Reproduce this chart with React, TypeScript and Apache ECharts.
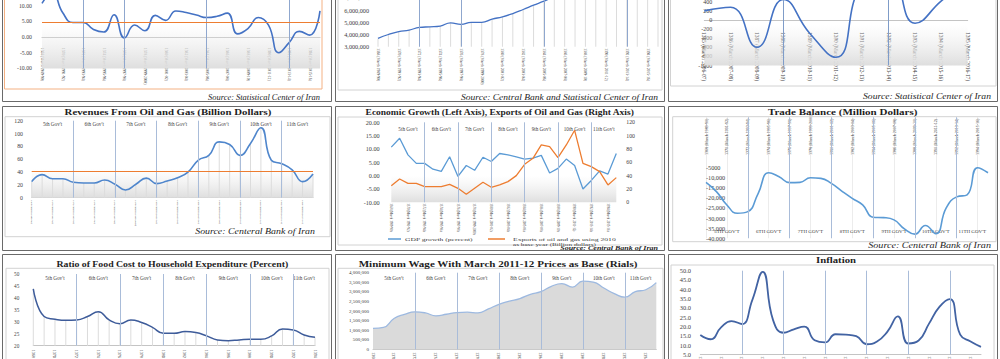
import React, { useEffect, useRef } from 'react';
import * as echarts from 'echarts';

const FONT = '"Liberation Serif", "Times New Roman", serif';
const TXT = '#404040';
const ORANGE = '#ED7D31';
const GOV = '#A9BCD9';

// ---------- categories ----------
const years = ['1368', '1369', '1370', '1371', '1372', '1373', '1374', '1375', '1376', '1377', '1378', '1379', '1380', '1381',
  '1382', '1383', '1384', '1385', '1386', '1387', '1388', '1389', '1390', '1391', '1392', '1393', '1394', '1395'];
const yearTickLabels = ['1368 (March 1989-90)', '1369 (March 1990-91)', '1370 (March 1991-92)', '1371 (March 1992-93)',
  '1372 (March 1993-94)', '1373 (March 1994-95)', '1374 (March 1995-96)', '1375 (March 1996-97)', '1376 (March 1997-98)',
  '1377 (March 1998-99)', '1378 (March 1999-2000)', '1379 (March 2000-01)', '1380 (March 2001-02)', '1381 (March 2002-03)',
  '1382 (March 2003-04)', '1383 (March 2004-05)', '1384 (March 2005-06)', '1385 (March 2006-07)', '1386 (March 2007-08)',
  '1387 (March 2008-09)', '1388 (March 2009-10)', '1389 (March 2010-11)', '1390 (March 2011-12)', '1391 (March 2012-13)',
  '1392 (March 2013-14)', '1393 (March 2014-15)', '1394 (March 2015-16)', '1395 (March 2016-17)'];
const topRightYears = ['1385', '1386', '1387', '1388', '1389', '1390', '1391', '1392', '1393', '1394', '1395'];
const foodYears = ['1368', '1369', '1370', '1371', '1372', '1373', '1374', '1375', '1376', '1377', '1378', '1379', '1380', '1381',
  '1382', '1383', '1384', '1385', '1386', '1387', '1388', '1389', '1390', '1391', '1392', '1393', '1394'];

// ---------- series values ----------
const gdpGrowth = [10.7, 14.0, 7.8, 4.6, 4.6, 2.4, 1.6, 7.1, -0.3, 3.8, 2.0, 6.9, 5.3, 8.3, 7.8, 7.0, 6.2, 6.6, 7.6, 1.0,
  2.7, 6.2, 3.8, -5.0, -1.8, 1.8, 0.6, 8.3];
const gdpGrowthAverage = 4.7;
const topCenterValues = [3680000, 4000000, 4230000, 4360000, 4580000, 4630000, 4690000, 4960000, 4830000, 5000000, 5000000,
  5260000, 5450000, 5720000, 6050000, 6400000, 6730000, 7100000, 7400000, 7650000, 7900000, 8150000, 8400000, 8600000,
  8800000, 9000000, 9200000, 9400000];
const topRightValues = [200, 280, -600, 450, -290, -820, 800, 1000, -70, 420, 900];
const oilGasRevenue = [25, 36, 29.5, 29.5, 24, 23, 23, 27.5, 21, 12, 21, 30.5, 22, 26, 31, 40, 58.5, 66, 87, 83, 66, 84.5,
  109, 58.5, 53, 43.5, 25, 37];
const oilGasRevenueAverage = 41.5;
const oilGasExports2010 = [25, 35, 28.5, 28.5, 23.5, 23.5, 23.5, 27, 21, 12, 21, 30, 22.5, 26, 31, 40, 57, 66, 86, 83.5, 67,
  86, 108, 58.5, 53.5, 46, 26, 37];
const tradeBalance = [-12300, -16900, -23500, -27600, -26800, -17700, -7500, -9500, -12400, -12300, -10000, -10300, -12800,
  -16600, -20200, -23500, -29600, -29800, -30900, -35400, -38000, -33700, -37800, -25000, -19500, -18500, -5000, -7500];
const foodShare = [43.8, 32.2, 31.1, 30.6, 30.8, 32.2, 34.2, 30.8, 29.2, 30.8, 29.7, 27.7, 25.2, 25.2, 25.9, 25.5, 24.1,
  22.4, 22.1, 22.4, 22.7, 22.7, 24.1, 27.0, 26.6, 24.5, 23.5];
const minimumWage = [1090000, 1140000, 1610000, 1820000, 1955000, 1900000, 1750000, 1830000, 1920000, 1940000, 1900000,
  2110000, 2350000, 2510000, 2650000, 2870000, 3010000, 3290000, 3425000, 3250000, 3560000, 3510000, 3200000, 2910000,
  2720000, 3010000, 3110000, 3480000];
const inflation = [15.4, 13.1, 19.5, 22.9, 21.3, 34.2, 49.4, 23.4, 16.6, 18.4, 19.9, 12.6, 11.4, 15.8, 15.6, 14.8, 10.4,
  11.9, 17.2, 25.4, 10.8, 12.4, 21.5, 30.5, 34.7, 15.6, 11.9, 9.0];

const govBoundaries = ['1372', '1376', '1380', '1384', '1388', '1392'];
const govNames = ["5th Gov't", "6th Gov't", "7th Gov't", "8th Gov't", "9th Gov't", "10th Gov't", "11th Gov't"];
const govNamesCaps = ["5TH GOV'T", "6TH GOV'T", "7TH GOV'T", "8TH GOV'T", "9TH GOV'T", "10TH GOV'T", "11TH GOV'T"];

const tickText: Record<string, string> = {};
years.forEach((y, i) => { tickText[y] = yearTickLabels[i]; });

const comma = (v: number) => v.toLocaleString('en-US');
const fmtTrade = (v: number) => (v >= 0 ? '' : v === -5000 ? '-5000' : comma(v));

const grad = (top: string, bottom: string) =>
  new echarts.graphic.LinearGradient(0, 0, 0, 1, [{ offset: 0, color: top }, { offset: 1, color: bottom }]);

function catAxis(data: string[], o: any) {
  return {
    type: 'category', data, boundaryGap: false, position: o.position || 'bottom', offset: o.offset || 0,
    axisLine: { show: !!o.line, onZero: false, lineStyle: { color: '#c4c4c4', width: 1 } },
    axisTick: { show: false },
    splitLine: { show: !!o.split, lineStyle: { color: '#e4e4e4', width: 0.7 } },
    axisLabel: {
      interval: o.interval ?? 1, rotate: -90, margin: o.margin, fontSize: o.fontSize, fontFamily: FONT, color: TXT,
      hideOverlap: false, formatter: (v: string) => tickText[v] ?? v,
    },
  };
}

function valAxis(min: number, max: number, interval: number, fmt: any, o: any) {
  return {
    type: 'value', min, max, interval, position: o.position || 'left',
    axisLine: { show: false, onZero: false }, axisTick: { show: false }, splitLine: { show: false },
    axisLabel: {
      margin: o.margin, fontSize: o.fontSize, fontFamily: FONT, color: TXT, formatter: fmt,
      inside: !!o.inside, hideOverlap: false, showMinLabel: true, showMaxLabel: true,
    },
  };
}

const govLineItems = (list: string[], color = GOV, width = 1) =>
  list.map((g) => ({ xAxis: g, lineStyle: { color, width, type: 'solid' } }));
const avgItem = (v: number) => ({ yAxis: v, lineStyle: { color: ORANGE, width: 1.2, type: 'solid' } });
const mkLine = (data: any[]) => ({ silent: true, symbol: ['none', 'none'], label: { show: false }, emphasis: { disabled: true }, data });
const band = (lo: number, hi: number, top = 'rgba(235,235,235,0)', bottom = '#dedede') =>
  [{ yAxis: hi, itemStyle: { color: grad(top, bottom) }, label: { show: false } }, { yAxis: lo }];
const govAreas = (cats: string[], names: string[], pos: string, dist: number, size = 5.2) => {
  const starts = [cats[0], ...govBoundaries];
  const ends = [...govBoundaries, cats[cats.length - 1]];
  return starts.map((s, i) => [
    {
      xAxis: s, name: names[i], itemStyle: { color: 'rgba(0,0,0,0)' },
      label: { show: true, position: pos, distance: dist, fontSize: size, fontFamily: FONT, color: TXT },
    },
    { xAxis: ends[i] },
  ]);
};
const mkArea = (data: any[]) => ({ silent: true, emphasis: { disabled: true }, data });
const dropBars = (values: number[], extra: any = {}) => ({
  type: 'bar', data: values, barWidth: 0.8, itemStyle: { color: '#dcdcdc' }, silent: true, z: 2, ...extra,
});
const lineSeries = (name: string, data: number[], color: string, width: number, extra: any = {}) => ({
  type: 'line', name, data, smooth: true, symbol: 'none', lineStyle: { color, width }, itemStyle: { color }, z: 4, ...extra,
});

let measureCtx: CanvasRenderingContext2D | null = null;
function stretched(text: string, x: number, y: number, size: number, target: number, o: any = {}) {
  const weight = o.bold ? 'bold' : 'normal';
  const fstyle = o.italic ? 'italic' : 'normal';
  if (!measureCtx) measureCtx = document.createElement('canvas').getContext('2d');
  let sx = 1;
  if (measureCtx) {
    measureCtx.font = `${fstyle} ${weight} ${size}px "Liberation Serif"`;
    const w = measureCtx.measureText(text).width;
    if (w > 0) sx = target / w;
  }
  const align = o.align || 'center';
  return {
    type: 'text', x, y, scaleX: sx, silent: true, z: 20,
    style: {
      text, fontSize: size, fontFamily: FONT, fontWeight: weight, fontStyle: fstyle, fill: o.color || '#1e1e1e',
      textAlign: align, align, textVerticalAlign: 'middle', verticalAlign: 'middle',
    },
  };
}
const frame = (x: number, y: number, w: number, h: number, stroke: string, lw = 1) => ({
  type: 'rect', silent: true, z: 1, shape: { x, y, width: w, height: h }, style: { fill: 'none', stroke, lineWidth: lw },
});

function buildOption() {
  const grids: any[] = [];
  const xAxes: any[] = [];
  const yAxes: any[] = [];
  const series: any[] = [];
  const add = (p: any) => {
    const gi = grids.length;
    grids.push({ ...p.grid, containLabel: false, outerBoundsMode: 'none', show: false });
    xAxes.push({ ...p.xAxis, gridIndex: gi });
    const off = yAxes.length;
    p.yAxis.forEach((y: any) => yAxes.push({ ...y, gridIndex: gi }));
    p.series.forEach((s: any) => series.push({ ...s, xAxisIndex: gi, yAxisIndex: off + (s.yAxisIndex || 0) }));
  };

  // A: GDP growth (top-left); axis line sits on the zero value (offset up from the grid bottom)
  add({
    grid: { left: 42, top: -10.1, width: 278, height: 78.5 },
    xAxis: catAxis(years, { line: true, offset: -31.4, margin: 11, fontSize: 3.6 }),
    yAxis: [valAxis(-10, 15, 5, (v: number) => (v >= 15 ? '' : v.toFixed(2)), { margin: 10, fontSize: 5.8 })],
    series: [lineSeries('Economic growth', gdpGrowth, '#4472C4', 1.6, {
      markLine: mkLine([...govLineItems(['1372', '1376', '1384', '1392'], '#8FA7CE'), avgItem(gdpGrowthAverage)]),
      markArea: mkArea([band(-10, 4)]),
    })],
  });

  // B: top-middle
  add({
    grid: { left: 378, top: -14.3, width: 280, height: 61 },
    xAxis: catAxis(years, { margin: 1.5, fontSize: 3.6 }),
    yAxis: [valAxis(3000000, 8000000, 1000000, (v: number) => (v >= 8000000 ? '' : comma(v)), { margin: 9, fontSize: 6.2 })],
    series: [
      dropBars(topCenterValues),
      lineSeries('Population', topCenterValues, '#4472C4', 1.3, {
        markLine: mkLine(govLineItems(['1372', '1376', '1384', '1392'], '#8FA7CE')),
      }),
    ],
  });

  // C: top-right
  add({
    grid: { left: 704.3, top: -7.3, width: 263.4, height: 72.8 },
    xAxis: catAxis(topRightYears, { line: true, offset: -45.5, margin: 12, fontSize: 5.4, interval: 0 }),
    yAxis: [valAxis(-1000, 600, 200, (v: number) => (v >= 600 ? '' : String(v)), { margin: -8, fontSize: 6 })],
    series: [lineSeries('Net', topRightValues, '#4472C4', 1.6, {
      markLine: mkLine(govLineItems(['1388', '1392'], '#7F9CC8')),
      markArea: mkArea([band(-1000, -100)]),
    })],
  });

  // D: revenues from oil and gas
  add({
    grid: { left: 31.7, top: 120.7, width: 281.3, height: 77 },
    xAxis: catAxis(years, { line: true, margin: 2.3, fontSize: 2.6 }),
    yAxis: [valAxis(0, 120, 20, (v: number) => String(v), { margin: 8.7, fontSize: 5.8 })],
    series: [
      dropBars(oilGasRevenue, { markArea: mkArea([band(0, 45)]) }),
      lineSeries('Revenues From Oil and Gas', oilGasRevenue, '#4F86CC', 1.6, {
        markLine: mkLine([...govLineItems(govBoundaries), avgItem(oilGasRevenueAverage)]),
        markArea: mkArea(govAreas(years, govNames, 'insideTop', 1)),
      }),
    ],
  });

  // E: economic growth & exports
  add({
    grid: { left: 391.3, top: 122.3, width: 225, height: 80 },
    xAxis: catAxis(years, { margin: 1, fontSize: 3.1 }),
    yAxis: [
      valAxis(-10, 20, 5, (v: number) => v.toFixed(2), { margin: 11.6, fontSize: 6.2 }),
      valAxis(0, 120, 20, (v: number) => String(v), { position: 'right', margin: 10, fontSize: 5.8 }),
    ],
    series: [
      lineSeries('GDP growth (percent)', gdpGrowth, '#5B9BD5', 1.3, {
        smooth: false,
        markLine: mkLine(govLineItems(govBoundaries)),
        markArea: mkArea([band(-10, 0), ...govAreas(years, govNames, 'insideTop', 4)]),
      }),
      lineSeries('Exports of oil and gas using 2010 as base year (Billion dollars)', oilGasExports2010, ORANGE, 1.3, {
        smooth: false, yAxisIndex: 1,
      }),
    ],
  });

  // F: trade balance (category axis on top, placed at the zero value)
  add({
    grid: { left: 706, top: 117.3, width: 282, height: 120.9 },
    xAxis: catAxis(years, { position: 'top', offset: -40.3, margin: 2.5, fontSize: 4, split: true }),
    yAxis: [valAxis(-40000, 20000, 5000, fmtTrade, { inside: true, margin: 0, fontSize: 6.2 })],
    series: [lineSeries('Trade Balance', tradeBalance, '#5B9BD5', 1.6, {
      markLine: mkLine(govLineItems(govBoundaries)),
      markArea: mkArea(govAreas(years, govNamesCaps, 'insideBottom', 4.6, 5)),
    })],
  });

  // G: food share
  add({
    grid: { left: 33.3, top: 274, width: 281.7, height: 71.7 },
    xAxis: catAxis(foodYears, { line: true, margin: 4, fontSize: 4 }),
    yAxis: [valAxis(20, 50, 5, (v: number) => String(v), { margin: 14, fontSize: 5.2 })],
    series: [
      dropBars(foodShare),
      lineSeries('Food cost ratio', foodShare, '#3E5C9A', 1.5, {
        markLine: mkLine(govLineItems(govBoundaries)),
        markArea: mkArea(govAreas(foodYears, govNames, 'insideTop', 1.7)),
      }),
    ],
  });

  // H: minimum wage
  add({
    grid: { left: 373, top: 272.7, width: 283.3, height: 76.6 },
    xAxis: catAxis(years, { line: true, margin: 3, fontSize: 4 }),
    yAxis: [valAxis(0, 4000000, 500000, comma, { margin: 4, fontSize: 5 })],
    series: [lineSeries('Minimum Wage', minimumWage, '#9DB9E0', 1.3, {
      areaStyle: { color: '#dadada', opacity: 1 },
      markLine: mkLine(govLineItems(govBoundaries)),
      markArea: mkArea(govAreas(years, govNames, 'insideTop', 3)),
    })],
  });

  // I: inflation
  add({
    grid: { left: 700.3, top: 270.7, width: 280.7, height: 83.6 },
    xAxis: catAxis(years, { line: true, margin: 2, fontSize: 4 }),
    yAxis: [valAxis(5, 50, 5, (v: number) => v.toFixed(1), { margin: 9.3, fontSize: 6.4 })],
    series: [lineSeries('Inflation', inflation, '#4263A3', 1.8, {
      markLine: mkLine(govLineItems(govBoundaries)),
    })],
  });

  const OUT = '#6a6a6a';
  const IN = '#d2d2d2';
  const graphics: any[] = [
    // outer panel borders
    frame(2.5, -5, 329, 106.5, OUT), frame(335.5, -5, 329, 106.5, OUT), frame(668.5, -5, 329, 106.5, OUT),
    frame(2.5, 106.5, 329, 144, OUT), frame(335.5, 106.5, 329, 144, OUT), frame(668.5, 106.5, 329, 144, OUT),
    frame(2.5, 254.5, 329, 110, OUT), frame(335.5, 254.5, 329, 110, OUT), frame(668.5, 254.5, 329, 110, OUT),
    // inner chart-area frames
    frame(4.5, -5, 317.5, 94, '#F4B183'), frame(338, -5, 324, 95, IN), frame(670.5, -5, 325.5, 91, IN),
    frame(5, 116.7, 325, 120, IN), frame(338, 117, 324, 128, IN), frame(672.7, 116.7, 323.3, 125, IN),
    frame(6, 268.3, 323, 97, IN), frame(338, 268.3, 325, 97, IN), frame(671, 265, 323, 100, IN),
    // titles
    stretched('Revenues From Oil and Gas (Billion Dollars)', 168, 112, 8, 207, { bold: true }),
    stretched('Economic Growth (Left Axis), Exports of Oil and Gas (Right Axis)', 499.7, 112, 8, 270, { bold: true }),
    stretched('Trade Balance (Million Dollars)', 842.7, 112, 8, 150, { bold: true }),
    stretched('Ratio of Food Cost to Household Expenditure (Percent)', 172.3, 264.5, 8, 232, { bold: true }),
    stretched('Minimum Wage With March 2011-12 Prices as Base (Rials)', 498, 264.5, 8, 280, { bold: true }),
    stretched('Inflation', 836, 260, 8, 40, { bold: true }),
    // sources
    stretched('Source: Statistical Center of Iran', 320, 97.3, 7.5, 112, { italic: true, align: 'right' }),
    stretched('Source: Central Bank and Statistical Center of Iran', 658, 97.3, 7.5, 197, { italic: true, align: 'right' }),
    stretched('Source: Statistical Center of Iran', 991, 96.3, 7.5, 128, { italic: true, align: 'right' }),
    stretched('Source: Centeral Bank of Iran', 315, 231, 7.5, 120, { italic: true, align: 'right' }),
    stretched('Source: Central Bank of Iran', 658, 248.3, 6.5, 98, { italic: true, bold: true, align: 'right' }),
    stretched('Source: Centeral Bank of Iran', 991, 245, 7.5, 123, { italic: true, align: 'right' }),
    // legend of the economic growth panel
    { type: 'line', silent: true, z: 20, shape: { x1: 388, y1: 239, x2: 401, y2: 239 }, style: { stroke: '#5B9BD5', lineWidth: 1.5 } },
    stretched('GDP growth (percent)', 405, 239, 5, 68, { align: 'left', color: TXT }),
    { type: 'line', silent: true, z: 20, shape: { x1: 488, y1: 239, x2: 505, y2: 239 }, style: { stroke: ORANGE, lineWidth: 1.5 } },
    stretched('Exports of oil and gas using 2010', 513, 239, 5, 103, { align: 'left', color: TXT }),
    stretched('as base year (Billion dollars)', 513, 243.6, 5, 83, { align: 'left', color: TXT }),
  ];

  return {
    animation: false,
    backgroundColor: '#ffffff',
    textStyle: { fontFamily: FONT },
    grid: grids,
    xAxis: xAxes,
    yAxis: yAxes,
    series,
    graphic: { elements: graphics },
  };
}

export default function App() {
  const ref = useRef<HTMLDivElement>(null);
  useEffect(() => {
    if (!ref.current) return;
    const chart = echarts.init(ref.current, null, { renderer: 'svg' });
    chart.setOption(buildOption() as any);
    return () => chart.dispose();
  }, []);
  return (
    <div
      ref={ref}
      style={{ position: 'fixed', left: 0, top: 0, width: 1000, height: 359, background: '#fff' }}
    />
  );
}
